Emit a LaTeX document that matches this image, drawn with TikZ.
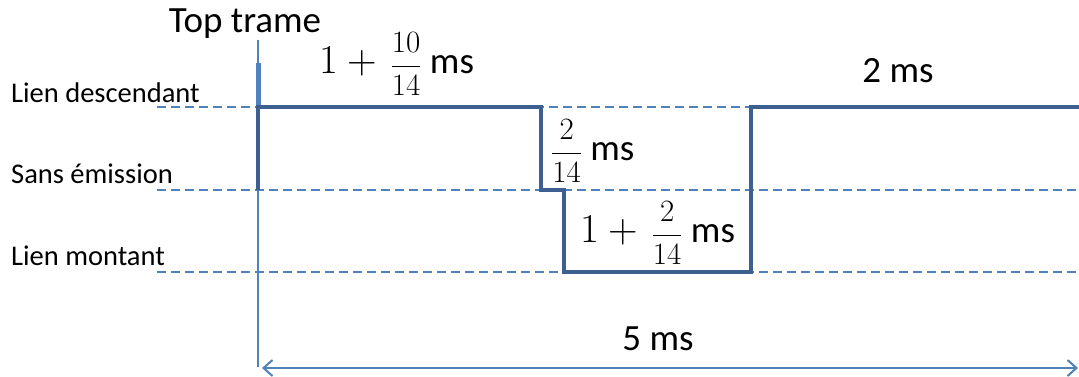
\RequirePackage{fix-cm}
\documentclass[tikz,border=0pt]{standalone}
\usepackage{amsmath}
\usepackage[no-math]{fontspec}
\setmainfont{Carlito}
\usetikzlibrary{arrows.meta}
\definecolor{sig}{RGB}{62,96,145}
\definecolor{lb}{RGB}{79,129,189}
\newcommand{\myfr}[2]{{\fontsize{31}{33}\selectfont$\displaystyle\frac{#1}{#2}$}}
\newcommand{\onep}{{\fontsize{41}{44}\selectfont$1+{}$}}
\begin{document}
\begin{tikzpicture}[x=1pt,y=-1pt,
  lvl/.style={lb,line width=1.5pt,dash pattern=on 9pt off 5pt},
  sigline/.style={sig,line width=3.2pt,line join=miter},
  lbl/.style={font=\fontsize{28.5}{30}\selectfont,anchor=base west,inner sep=0pt},
  big/.style={font=\fontsize{37}{40}\selectfont,inner sep=0pt}]
\useasboundingbox (0,0) rectangle (1079,376);
% level coordinates
\coordinate (d0) at (157,107); \coordinate (d1) at (1079,107);
\coordinate (s0) at (157,190); \coordinate (s1) at (1079,190);
\coordinate (m0) at (157,272); \coordinate (m1) at (1079,272);
\draw[lvl] (d0) -- (d1);
\draw[lvl] (s0) -- (s1);
\draw[lvl] (m0) -- (m1);
% labels
\node[lbl] (ld) at (11,102) {Lien descendant};
\node[lbl] (se) at (11,183) {Sans émission};
\node[lbl] (lm) at (11,265) {Lien montant};
% top trame marker
\coordinate (t0) at (258,40);
\coordinate (t1) at (258,367);
\coordinate (tk) at (258,63);
\coordinate (tb) at (258,107);
\draw[lb,line width=1.5pt] (t0) -- (t1);
\draw[lb,line width=5pt] (tk) -- (tb);
\node[big,anchor=base] (top) at (245,32) {Top trame};
% signal
\coordinate (p0) at (258,190);
\coordinate (p2) at (541,107);
\coordinate (p3) at (541,190);
\coordinate (p4) at (564,190);
\coordinate (p5) at (564,272);
\coordinate (p6) at (751,272);
\coordinate (p7) at (751,107);
\coordinate (p8) at (1079,107);
\draw[sigline] (p0) -- (tb) -- (p2) -- (p3) -- (p4) -- (p5) -- (p6) -- (p7) -- (p8);
% duration labels
\node[big,anchor=west] (dl) at (319,64) {\onep\hspace{5pt}\myfr{10}{14} ms};
\node[big,anchor=west] (gp) at (551,151) {\myfr{2}{14} ms};
\node[big,anchor=west] (ul) at (580,233) {\onep\hspace{5pt}\myfr{2}{14} ms};
\node[big,anchor=base] (dl2) at (898,82) {2 ms};
% period arrow
\coordinate (a0) at (262,368);
\coordinate (a1) at (1078,368);
\draw[lb,line width=2pt,{Straight Barb[length=9pt,width=16pt,line width=2pt]}-{Straight Barb[length=9pt,width=16pt,line width=2pt]}] (a0) -- (a1);
\node[big,anchor=base] (per) at (658,350) {5 ms};
\end{tikzpicture}
\end{document}
